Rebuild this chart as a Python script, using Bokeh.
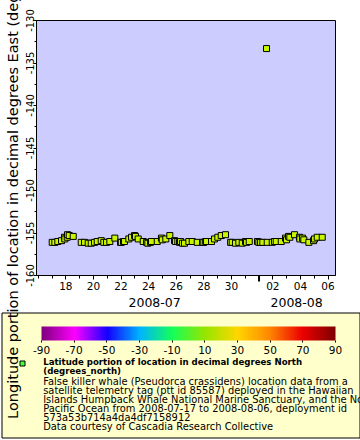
import numpy as np
import pandas as pd
from bokeh.plotting import figure
from bokeh.models import (Range1d, FixedTicker, DatetimeTickFormatter, ColorBar,
                          LinearColorMapper, ColumnDataSource, CustomJSTickFormatter)
from bokeh.embed import file_html
from bokeh.resources import INLINE

# ---------------- data ----------------
times = [
    "2008-07-17 00:20", "2008-07-17 04:52", "2008-07-17 10:05", "2008-07-17 16:30",
    "2008-07-17 21:45", "2008-07-17 22:16", "2008-07-18 02:26", "2008-07-18 03:00",
    "2008-07-18 05:54", "2008-07-18 12:52", "2008-07-19 02:47", "2008-07-19 08:31",
    "2008-07-19 14:57", "2008-07-19 20:11", "2008-07-20 01:55", "2008-07-20 06:36",
    "2008-07-20 13:34", "2008-07-20 18:05", "2008-07-20 22:47", "2008-07-21 04:31",
    "2008-07-21 13:13", "2008-07-21 23:08", "2008-07-22 00:30", "2008-07-22 04:20",
    "2008-07-22 06:06", "2008-07-22 13:34", "2008-07-22 18:16", "2008-07-22 23:30",
    "2008-07-23 01:13", "2008-07-23 05:54", "2008-07-23 14:37", "2008-07-23 20:25",
    "2008-07-23 22:36", "2008-07-24 03:20", "2008-07-24 05:02", "2008-07-24 14:57",
    "2008-07-24 22:20", "2008-07-24 23:40", "2008-07-25 05:54", "2008-07-25 12:52",
    "2008-07-25 21:02", "2008-07-25 22:50", "2008-07-26 02:47", "2008-07-26 05:45",
    "2008-07-26 07:29", "2008-07-26 11:00", "2008-07-26 14:25", "2008-07-26 21:55",
    "2008-07-27 03:49", "2008-07-27 12:31", "2008-07-27 21:50", "2008-07-28 00:00",
    "2008-07-28 03:10", "2008-07-28 04:42", "2008-07-28 13:24", "2008-07-28 18:36",
    "2008-07-29 00:20", "2008-07-29 06:15", "2008-07-29 13:44", "2008-07-29 22:35",
    "2008-07-30 01:23", "2008-07-30 07:08", "2008-07-30 12:52", "2008-07-30 18:47",
    "2008-07-31 00:30", "2008-07-31 02:15", "2008-07-31 06:58", "2008-07-31 21:20",
    "2008-07-31 23:40", "2008-08-01 02:40", "2008-08-01 06:36", "2008-08-01 13:00",
    "2008-08-01 14:15", "2008-08-01 22:58", "2008-08-02 02:50", "2008-08-02 05:54",
    "2008-08-02 14:37", "2008-08-02 22:05", "2008-08-02 23:50", "2008-08-03 03:20",
    "2008-08-03 05:34", "2008-08-03 13:44", "2008-08-03 22:20", "2008-08-03 22:58",
    "2008-08-04 03:35", "2008-08-04 05:54", "2008-08-04 14:37", "2008-08-04 22:50",
    "2008-08-05 00:32", "2008-08-05 05:13", "2008-08-05 13:55",
]
longitudes = [
    -156.1, -156.1, -156.0, -155.9,
    -155.5, -155.7, -155.5, -155.2,
    -155.3, -155.4, -156.1, -156.1,
    -156.2, -156.2, -156.1, -156.0,
    -155.9, -156.1, -156.1, -156.0,
    -155.6, -156.1, -156.1, -156.0,
    -156.0, -155.7, -155.5, -155.3,
    -155.4, -155.7, -156.0, -156.1,
    -156.2, -156.1, -156.0, -156.0,
    -155.6, -155.8, -155.7, -155.3,
    -155.9, -156.0, -156.0, -156.1,
    -156.0, -156.2, -156.2, -156.0,
    -156.0, -156.1, -156.1, -156.1,
    -156.0, -156.0, -156.0, -155.7,
    -155.5, -155.3, -155.2, -156.1,
    -156.1, -156.2, -156.1, -156.2,
    -156.0, -156.1, -156.0, -156.0,
    -156.1, -156.1, -156.1, -133.3,
    -156.1, -156.1, -156.0, -156.0,
    -156.0, -155.6, -155.8, -155.4,
    -155.5, -155.2, -155.5, -155.7,
    -155.6, -155.8, -156.1, -155.9,
    -155.7, -155.5, -155.5,
]

x_limits = ["2008-07-15 21:00", "2008-08-06 13:00"]
y_limits = [-160, -130]
x_major_days = ["2008-07-18", "2008-07-20", "2008-07-22", "2008-07-24", "2008-07-26",
                "2008-07-28", "2008-07-30", "2008-08-02", "2008-08-04", "2008-08-06"]
x_minor_days = ["2008-07-16", "2008-07-17", "2008-07-19", "2008-07-21", "2008-07-23",
                "2008-07-25", "2008-07-27", "2008-07-29", "2008-07-31", "2008-08-01",
                "2008-08-03", "2008-08-05"]
month_start = "2008-08-01"
month_labels = ["2008-07", "2008-08"]
y_major = [-160, -155, -150, -145, -140, -135, -130]
y_minor = [-157.5, -152.5, -147.5, -142.5, -137.5, -132.5]
cbar_ticks = [-90, -70, -50, -30, -10, 10, 30, 50, 70, 90]
cbar_stops = [(-90, (128, 0, 128)), (-70, (255, 0, 255)), (-50, (20, 0, 255)),
              (-30, (0, 180, 255)), (-10, (20, 255, 90)), (10, (150, 230, 0)),
              (30, (255, 215, 0)), (50, (255, 135, 0)), (70, (238, 0, 0)),
              (90, (128, 0, 0))]

y_title = "Longitude portion of location in decimal degrees East (degrees_east)"
legend_bold = ["Latitude portion of location in decimal degrees North", "(degrees_north)"]
legend_lines = [
    "False killer whale (Pseudorca crassidens) location data from a",
    "satellite telemetry tag (ptt id 85587) deployed in the Hawaiian",
    "Islands Humpback Whale National Marine Sanctuary, and the North",
    "Pacific Ocean from 2008-07-17 to 2008-08-06, deployment id",
    "573a53b714a4da4df7158912",
    "Data courtesy of Cascadia Research Collective",
]


def ms(vals):
    return pd.to_datetime(vals).values.astype("datetime64[ms]").astype("int64").astype(float)


FONT = "DejaVu Sans"
FRAME_L, FRAME_R, FRAME_T, FRAME_B = 36, 335, 20, 275

# ---------------- main plot ----------------
src = ColumnDataSource(dict(t=pd.to_datetime(times), lon=longitudes))
xr = ms(x_limits)
p = figure(width=360, height=440, x_axis_type="datetime",
           x_range=Range1d(xr[0], xr[1]), y_range=Range1d(*y_limits),
           output_backend="svg", toolbar_location=None,
           min_border_left=FRAME_L, min_border_right=360 - FRAME_R,
           min_border_top=FRAME_T, min_border_bottom=440 - FRAME_B,
           background_fill_color="#ccccff", border_fill_color="white")
p.outline_line_color = "black"
p.outline_line_width = 1
p.xgrid.visible = False
p.ygrid.visible = False

p.xaxis.ticker = FixedTicker(ticks=list(ms(x_major_days)),
                             minor_ticks=list(ms(x_minor_days)))
p.xaxis.formatter = DatetimeTickFormatter(days="%d", months="%d", hours="%d",
                                          minutes="%d", context=None)
p.yaxis.ticker = FixedTicker(ticks=y_major, minor_ticks=y_minor)
p.yaxis.formatter = CustomJSTickFormatter(code="return tick.toString();")
for ax in (p.xaxis[0], p.yaxis[0]):
    ax.axis_line_color = "black"
    ax.major_tick_line_color = "black"
    ax.minor_tick_line_color = "black"
    ax.major_tick_in = 0
    ax.minor_tick_in = 0
    ax.major_label_text_font = FONT
    ax.major_label_text_color = "black"
p.xaxis.major_label_text_font_size = "10.5px"
p.yaxis.major_label_text_font_size = "10px"
p.xaxis.major_tick_out = 4
p.xaxis.minor_tick_out = 3
p.xaxis.major_label_standoff = 2
p.yaxis.major_tick_out = 3
p.yaxis.minor_tick_out = 2
p.yaxis.major_label_standoff = 0
p.yaxis.major_label_orientation = "vertical"
# y axis title (trailing no-break spaces move the centred title down);
# drawn as overlay so that it lies on top of the legend box
p.yaxis.axis_label = y_title + "\u00a0" * 9
p.yaxis.axis_label_text_font = FONT
p.yaxis.axis_label_text_font_size = "14.5px"
p.yaxis.axis_label_text_font_style = "normal"
p.yaxis.axis_label_text_color = "black"
p.yaxis.axis_label_standoff = 2
p.yaxis[0].level = "overlay"

p.scatter("t", "lon", source=src, marker="square", size=6,
          fill_color="#c8f500", line_color="black", line_width=1)


def block(px_left, px_bottom, w, h, color, line="black"):
    """solid rectangle placed in page pixels (ColorBar used as an unclipped box)"""
    return ColorBar(color_mapper=LinearColorMapper(palette=[color, color], low=0, high=1),
                    orientation="horizontal", location=(px_left - FRAME_L, FRAME_B - px_bottom),
                    width=w, height=h, padding=0, ticker=FixedTicker(ticks=[]),
                    major_label_text_font_size="0px", label_standoff=0,
                    major_tick_line_color=None, minor_tick_line_color=None,
                    bar_line_color=line, background_fill_alpha=0,
                    border_line_color=None)


def text_line(txt, px_left, px_center, size, bold=False):
    """one line of text placed in page pixels (ColorBar title, unclipped)"""
    h = 1.164 * size
    bottom = px_center + 1 + h / 2
    return ColorBar(color_mapper=LinearColorMapper(palette=["#ffffff", "#ffffff"], low=0, high=1),
                    orientation="horizontal", location=(px_left - FRAME_L, FRAME_B - bottom),
                    width=1, height=1, padding=0, scale_alpha=0,
                    ticker=FixedTicker(ticks=[]), major_label_text_font_size="0px",
                    label_standoff=0, major_tick_line_color=None,
                    minor_tick_line_color=None, bar_line_color=None,
                    background_fill_alpha=0, border_line_color=None,
                    title=txt, title_text_font=FONT, title_text_font_size=f"{size}px",
                    title_text_font_style="bold" if bold else "normal",
                    title_text_color="black", title_standoff=0)


# legend box
p.add_layout(block(1.5, 437.5, 358, 125, "#ffffcc"), "center")

# heavier tick at the month boundary
aug1_px = FRAME_L + (ms([month_start])[0] - xr[0]) / (xr[1] - xr[0]) * (FRAME_R - FRAME_L)
p.add_layout(block(aug1_px - 1, FRAME_B + 6, 2, 6, "#000000", line=None), "center")

# month labels under the axis
p.add_layout(text_line(month_labels[0], 128, 299.5, 12.5), "center")
p.add_layout(text_line(month_labels[1], 270, 299.5, 12.5), "center")

# colour bar
vals = np.linspace(-90, 90, 180)
sv = [s[0] for s in cbar_stops]
rgb = np.array([s[1] for s in cbar_stops], dtype=float)
palette = ["#%02x%02x%02x" % tuple(int(np.interp(v, sv, rgb[:, k])) for k in range(3))
           for v in vals]
mapper = LinearColorMapper(palette=palette, low=-90, high=90)
cb = ColorBar(color_mapper=mapper, orientation="horizontal", location=(5, -81),
              width=294, height=14, ticker=FixedTicker(ticks=cbar_ticks),
              formatter=CustomJSTickFormatter(code="return tick.toString();"),
              padding=0, major_label_text_font_size="10.5px",
              major_label_text_font=FONT, major_label_text_color="black",
              background_fill_alpha=0, border_line_color=None, bar_line_color=None,
              major_tick_line_color="black", major_tick_in=0, major_tick_out=2,
              minor_tick_line_color=None, label_standoff=3)
p.add_layout(cb, "center")

# legend marker and texts
p.add_layout(block(19.5, 365.5, 5, 5, "#40ff40"), "center")
for txt, cy in zip(legend_bold, [361.3, 370.3]):
    p.add_layout(text_line(txt, 42.7, cy, 8.6, bold=True), "center")
for i, txt in enumerate(legend_lines):
    p.add_layout(text_line(txt, 42.7, 380.4 + 9 * i, 9.9), "center")

open("out.html", "w").write(file_html(p, INLINE))
